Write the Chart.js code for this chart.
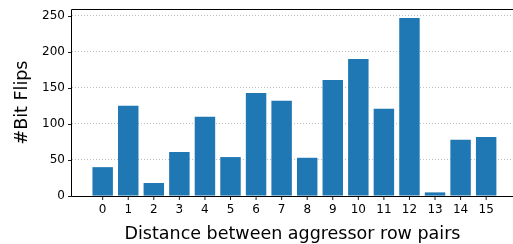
<!DOCTYPE html>
<html>
<head>
<meta charset="utf-8">
<script src="https://cdn.jsdelivr.net/npm/chart.js@4/dist/chart.umd.min.js"></script>
<style>
  html, body { margin: 0; padding: 0; background: #fff; }
  #wrap { width: 513px; height: 244px; position: relative; }
</style>
</head>
<body>
<div id="wrap"><canvas id="c" width="513" height="244"></canvas></div>
<script>
const distances = [0, 1, 2, 3, 4, 5, 6, 7, 8, 9, 10, 11, 12, 13, 14, 15];
const bitFlips = [40, 125, 18, 61, 110, 54, 143, 132, 53, 161, 190, 121, 247, 5, 78, 82];
const yTicks = [0, 50, 100, 150, 200, 250];
const xTitle = 'Distance between aggressor row pairs';
const yTitle = '#Bit Flips';

const FONT = 'DejaVu Sans';

const spinePlugin = {
  id: 'spines',
  afterDraw(chart) {
    const ctx = chart.ctx;
    const ca = chart.chartArea;
    const xs = chart.scales.x, ys = chart.scales.y;
    ctx.save();
    ctx.strokeStyle = '#000';
    ctx.lineWidth = 1;
    ctx.beginPath();
    const L = Math.round(ca.left) - 0.5;
    const B = Math.round(ca.bottom) + 0.5;
    const T = Math.round(ca.top) + 0.5;
    ctx.moveTo(L, T); ctx.lineTo(L, B);
    ctx.moveTo(L, B); ctx.lineTo(ca.right, B);
    ctx.moveTo(L, T); ctx.lineTo(ca.right, T);
    ctx.stroke();
    ctx.lineWidth = 0.9;
    ctx.beginPath();
    yTicks.forEach(v => {
      const y = Math.round(ys.getPixelForValue(v)) + 0.5;
      ctx.moveTo(L - 3.5, y); ctx.lineTo(L, y);
    });
    distances.forEach(v => {
      const x = xs.getPixelForValue(v);
      ctx.moveTo(x, B); ctx.lineTo(x, B + 3.5);
    });
    ctx.stroke();
    ctx.restore();
  }
};

new Chart(document.getElementById('c'), {
  type: 'bar',
  data: {
    datasets: [{
      data: distances.map((d, i) => ({ x: d, y: bitFlips[i] })),
      backgroundColor: '#1f77b4',
      borderWidth: 0,
      barPercentage: 0.8,
      categoryPercentage: 1.0
    }]
  },
  options: {
    responsive: false,
    animation: false,
    devicePixelRatio: 1,
    layout: { padding: { top: 9, right: 0, bottom: 0, left: 0 } },
    plugins: { legend: { display: false }, tooltip: { enabled: false } },
    scales: {
      x: {
        type: 'linear',
        offset: false,
        min: -1.2,
        max: 16.05,
        afterBuildTicks(scale) { scale.ticks = distances.map(v => ({ value: v })); },
        afterFit(scale) { scale.height = 48; scale.paddingLeft = 0; scale.paddingRight = 0; },
        grid: { display: false, drawTicks: false, offset: false },
        border: { display: false },
        ticks: {
          padding: 7,
          color: '#000',
          font: { family: FONT, size: 12 },
          maxRotation: 0,
          autoSkip: false,
          callback: v => String(v)
        },
        title: {
          display: true,
          text: xTitle,
          color: '#000',
          font: { family: FONT, size: 17.5, lineHeight: 1 },
          padding: { top: 0, bottom: 0.5 }
        }
      },
      y: {
        min: 0,
        max: 259.35,
        afterBuildTicks(scale) { scale.ticks = yTicks.map(v => ({ value: v })); },
        afterFit(scale) { scale.width = 72; scale.paddingTop = 0; scale.paddingBottom = 0; },
        grid: { display: true, drawTicks: false, color: '#b0b0b0', lineWidth: 0.8 },
        border: { display: false, dash: [1, 2] },
        ticks: {
          padding: 7,
          color: '#000',
          font: { family: FONT, size: 12 },
          callback: v => String(v)
        },
        title: {
          display: true,
          text: yTitle,
          color: '#000',
          font: { family: FONT, size: 17.5, lineHeight: 1 },
          padding: { top: 13.5, bottom: 0 }
        }
      }
    }
  },
  plugins: [spinePlugin]
});
</script>
</body>
</html>
